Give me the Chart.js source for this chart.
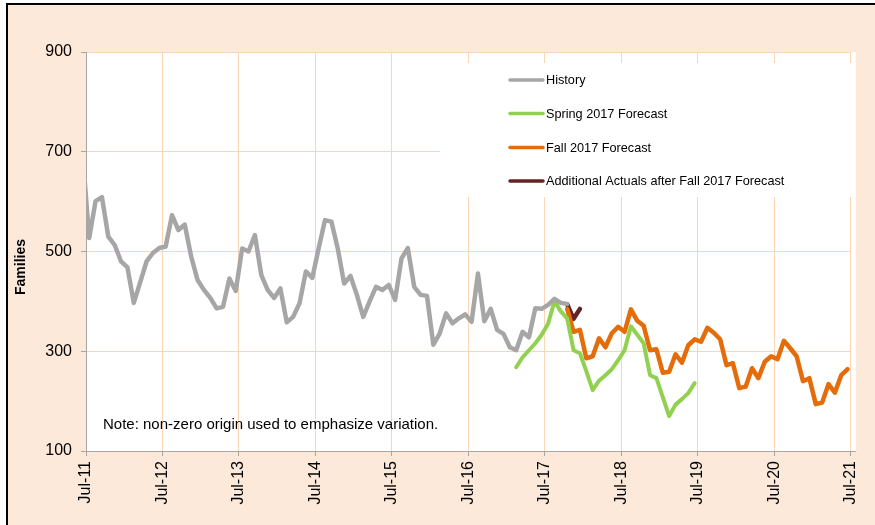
<!DOCTYPE html>
<html><head><meta charset="utf-8">
<script src="https://cdn.jsdelivr.net/npm/chart.js@4.4.1/dist/chart.umd.min.js"></script>
<style>
html,body{margin:0;padding:0;background:#fff;width:875px;height:525px;overflow:hidden}
#frame{position:absolute;left:6px;top:3px;width:900px;height:560px;border:2px solid #000;background:#fde9d9;box-sizing:border-box}
#wrap{position:absolute;left:0;top:0;width:875px;height:525px}
</style></head><body>
<div id="frame"></div>
<div id="wrap"><canvas id="c" width="875" height="525"></canvas></div>
<script>
// Tick labels (one per year, every 12 months from Jul-11)
const tickLabels = ['Jul-11','Jul-12','Jul-13','Jul-14','Jul-15','Jul-16','Jul-17','Jul-18','Jul-19','Jul-20','Jul-21'];
const seriesNames = ['History','Spring 2017 Forecast','Fall 2017 Forecast','Additional Actuals after Fall 2017 Forecast'];

// Month offsets (from Jul-11) of each series' first value
const historyStart = -1;
const historyValues = [690,527,601,609,530,513,480,468,397,438,480,497,507,
  510,573,543,554,490,443,423,407,386,389,446,421,
  506,500,533,453,423,407,426,358,369,396,460,447,
  506,563,560,506,436,451,413,369,400,429,423,433,
  403,486,507,429,413,411,313,336,376,356,366,374,
  359,456,360,385,343,335,308,302,339,328,386,385,
  393,405,397,395];

const springStart = 67;
const springValues = [268,288,302,316,333,355,400,380,366,302,296,260,222,241,252,264,282,
  302,350,333,316,252,246,208,170,193,204,216,236];

const fallStart = 75;
const fallValues = [385,339,343,286,290,326,308,336,349,
  339,384,361,351,302,304,257,259,294,277,312,324,
  319,347,337,324,272,276,226,229,266,246,279,290,
  284,321,306,290,240,246,194,197,234,217,252,264];

const actualsStart = 75;
const actualsValues = [394,365,385];

const colors = ['#a6a6a6','#92d050','#e46c0a','#632523'];
const FONT = "'Liberation Sans', Arial, sans-serif";

function pts(start, vals){ return vals.map((v,i)=>({x:start+i+0.5, y:v})); }

const overlay = {
  id:'overlay',
  beforeDraw(chart){
    const {ctx, chartArea:a} = chart;
    ctx.save();
    ctx.fillStyle='#fff';
    ctx.fillRect(a.left, a.top, a.right - a.left + 5, a.bottom - a.top);
    ctx.restore();
  },
  beforeDatasetsDraw(chart){
    const {ctx} = chart;
    ctx.save();
    // legend box
    ctx.fillStyle='#fff';
    ctx.fillRect(440, 63, 413, 134);
    const rows=[80,113.5,147.5,181];
    ctx.font = "12.7px " + FONT;
    ctx.textBaseline='middle';
    ctx.textAlign='left';
    seriesNames.forEach((n,i)=>{
      ctx.strokeStyle=colors[i];
      ctx.lineWidth=3.5;
      ctx.lineCap='round';
      ctx.beginPath(); ctx.moveTo(510, rows[i]); ctx.lineTo(543, rows[i]); ctx.stroke();
      ctx.fillStyle='#000';
      ctx.fillText(n, 546, rows[i]+0.5);
    });
    // note
    ctx.font = "15px " + FONT;
    ctx.fillText('Note: non-zero origin used to emphasize variation.', 103, 425);
    // y title
    ctx.translate(21, 267);
    ctx.rotate(-Math.PI/2);
    ctx.textAlign='center';
    ctx.font = "bold 14px " + FONT;
    ctx.fillText('Families', 0, 0);
    ctx.restore();
  },
  afterDraw(chart){
    const {ctx, chartArea:a} = chart;
    ctx.save();
    ctx.strokeStyle='#a6a6a6'; ctx.lineWidth=1;
    ctx.beginPath(); ctx.moveTo(a.right, a.bottom+0.5); ctx.lineTo(a.right+5, a.bottom+0.5); ctx.stroke();
    ctx.restore();
  }
};

new Chart(document.getElementById('c'), {
  type:'line',
  data:{datasets:[
    {label:seriesNames[0], data:pts(historyStart, historyValues), borderColor:colors[0], borderWidth:4.5, clip:0},
    {label:seriesNames[1], data:pts(springStart, springValues), borderColor:colors[1], borderWidth:4},
    {label:seriesNames[2], data:pts(fallStart, fallValues), borderColor:colors[2], borderWidth:4.5},
    {label:seriesNames[3], data:pts(actualsStart, actualsValues), borderColor:colors[3], borderWidth:4.5}
  ]},
  options:{
    responsive:false, animation:false, devicePixelRatio:1,
    elements:{point:{radius:0}, line:{tension:0, borderJoinStyle:'round', borderCapStyle:'round'}},
    layout:{padding:{top:52, right:20, left:0, bottom:0}},
    plugins:{legend:{display:false}, tooltip:{enabled:false}},
    scales:{
      x:{type:'linear', min:0, max:120,
        afterFit(s){ s.height = 74; },
        border:{color:'#a6a6a6', width:1},
        grid:{color:'#fcd5b5', lineWidth:1, tickColor:'#a6a6a6', tickLength:5},
        ticks:{stepSize:12, autoSkip:false, maxRotation:90, minRotation:90, padding:5,
          color:'#000', font:{family:FONT, size:16},
          callback:(v)=> tickLabels[v/12]}
      },
      y:{min:100, max:900,
        afterFit(s){ s.width = 86; },
        border:{color:'#a6a6a6', width:1},
        grid:{color:'#fcd5b5', lineWidth:1, tickColor:'#a6a6a6', tickLength:5},
        ticks:{stepSize:200, padding:9, color:'#000', font:{family:FONT, size:16}}
      }
    }
  },
  plugins:[overlay]
});
</script>
</body></html>
